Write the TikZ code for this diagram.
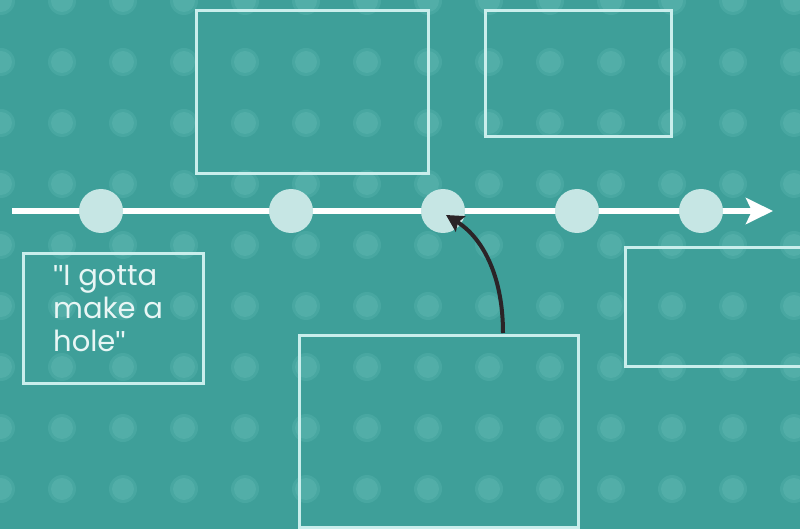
\documentclass[tikz,border=0pt]{standalone}
\usepackage{fontspec}
\setmainfont{Poppins}
\newfontfamily\qmark{Liberation Sans}
\usetikzlibrary{arrows.meta}
\definecolor{bg}{HTML}{3E9F99}
\definecolor{dotc}{HTML}{52AEA8}
\definecolor{dotc2}{HTML}{48A7A1}
\definecolor{boxline}{HTML}{C9EEEC}
\definecolor{circ}{HTML}{C6E6E4}
\definecolor{darkarrow}{HTML}{2B2427}
\definecolor{txt}{HTML}{E8F6F5}
\tikzset{
  framebox/.style={draw=boxline, line width=3pt, inner sep=0pt, anchor=north west},
  eventdot/.style={circle, fill=circ, minimum size=44pt, inner sep=0pt},
  timeline/.style={draw=white, line width=6pt, -{Stealth[length=27pt, width=26pt, inset=6pt]}},
  pointer/.style={draw=darkarrow, line width=4pt, -{Stealth[length=17pt, width=18pt, inset=3pt]}},
  quote/.style={text=txt, font=\fontsize{29}{33}\selectfont, align=left, anchor=north west, inner sep=0pt}
}
\begin{document}
\begin{tikzpicture}[x=1pt, y=-1pt]
\useasboundingbox (0,0) rectangle (800,529);
\fill[bg] (0,0) rectangle (800,529);
% dot pattern
\foreach \i in {0,...,13} {
  \foreach \j in {0,...,8} {
    \fill[dotc2] ({1+61*\i},{1+61*\j}) circle (14pt);
    \fill[dotc] ({1+61*\i},{1+61*\j}) circle (11pt);
  }
}
% boxes
\node[framebox, minimum width=232pt, minimum height=163pt] (b1) at (195,9) {};
\node[framebox, minimum width=186pt, minimum height=126pt] (b2) at (484,9) {};
\node[framebox, minimum width=180pt, minimum height=130pt] (b3) at (22,252) {};
\node[framebox, minimum width=190pt, minimum height=119pt] (b4) at (624,246) {};
\node[framebox, minimum width=279pt, minimum height=192pt] (b5) at (298,334) {};
\node[quote] (q) at (53,265) {{\qmark\char"22}I gotta\\make a\\hole{\qmark\char"22}};
% timeline
\coordinate (tstart) at (12,211);
\coordinate (tend) at (773,211);
\draw[timeline] (tstart) -- (tend);
\node[eventdot] (c1) at (101,211) {};
\node[eventdot] (c2) at (291,211) {};
\node[eventdot] (c3) at (443,211) {};
\node[eventdot] (c4) at (577,211) {};
\node[eventdot] (c5) at (701,211) {};
% pointer
\coordinate (pstart) at (503,333);
\draw[pointer] (pstart) .. controls (503,272) and (480,236) .. ([shift={(3,4)}]c3.center);
\end{tikzpicture}
\end{document}
